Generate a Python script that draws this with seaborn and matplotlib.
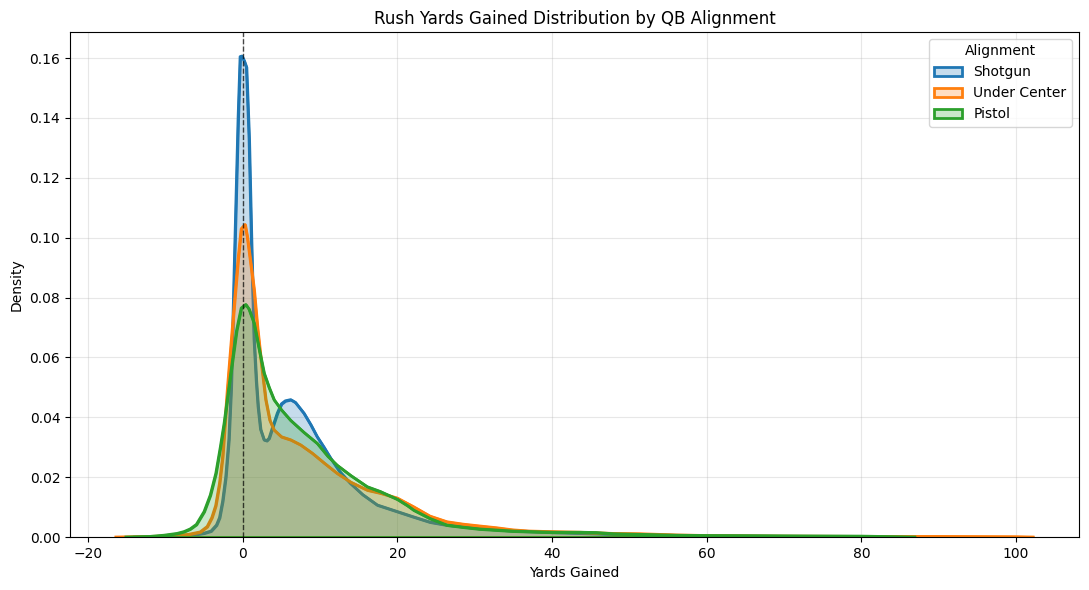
import numpy as np
import pandas as pd
import matplotlib
matplotlib.use("Agg")
import matplotlib.pyplot as plt
from matplotlib.patches import Patch
import seaborn as sns

# density curves (yards, density)
alignments = ["Shotgun", "Under Center", "Pistol"]

shotgun_x = [-14, -10, -7, -5, -4.1, -3.4, -3.0, -2.6, -2.2, -1.8, -1.5, -1.33,
             -1.1, -0.9, -0.6, -0.34, -0.1, 0.2, 0.47, 0.82, 1.12, 1.46, 1.75,
             1.98, 2.3, 2.75, 3.1, 3.4, 3.9, 4.47, 5.0, 5.5, 6.2, 6.8, 7.9, 8.8,
             9.6, 10.5, 11.35, 12.5, 13.9, 15.5, 17.4, 20, 22, 24.2, 26.4, 28.5,
             30.6, 34.9, 40, 45, 50, 60, 70, 80]
shotgun_d = [0, 0.0002, 0.0005, 0.0013, 0.002, 0.004, 0.0065, 0.012, 0.02,
             0.0325, 0.05, 0.066, 0.09, 0.11, 0.14, 0.1605, 0.1607, 0.159,
             0.157, 0.133, 0.099, 0.066, 0.052, 0.0436, 0.036, 0.0325, 0.0322,
             0.033, 0.037, 0.0414, 0.0445, 0.0455, 0.0459, 0.045, 0.0414,
             0.0375, 0.0336, 0.03, 0.0264, 0.022, 0.018, 0.0142, 0.0107, 0.0085,
             0.0068, 0.005, 0.004, 0.0035, 0.0029, 0.0021, 0.0016, 0.0012,
             0.0008, 0.0004, 0.0002, 0]

under_x = [-16.4, -12, -9, -7, -5.5, -4.6, -4.0, -3.5, -3.0, -2.6, -2.0, -1.5,
           -1.12, -0.6, -0.2, 0.3, 0.6, 1.0, 1.46, 1.9, 2.32, 2.97, 3.5, 4.04,
           5.0, 6.19, 7.48, 9, 10.5, 12.2, 14, 16.1, 17.8, 20, 22.1, 24.2, 26.4,
           28.5, 30.6, 32.8, 34.9, 37, 40, 43.6, 47.9, 51.3, 56, 60, 70, 80, 90,
           100, 102.2]
under_d = [0, 0.0002, 0.0004, 0.0009, 0.0017, 0.0035, 0.0065, 0.0105, 0.018,
           0.027, 0.049, 0.065, 0.077, 0.093, 0.103, 0.1044, 0.1, 0.092, 0.0827,
           0.07, 0.06, 0.0459, 0.039, 0.0358, 0.0335, 0.0325, 0.0308, 0.028,
           0.0248, 0.0213, 0.0183, 0.0157, 0.0147, 0.013, 0.0101, 0.007, 0.0051,
           0.0043, 0.0037, 0.0031, 0.0024, 0.002, 0.0018, 0.0016, 0.0012,
           0.0011, 0.0007, 0.0005, 0.0003, 0.0002, 0.0002, 0.0001, 0]

pistol_x = [-15.1, -12, -10.2, -8.5, -7.6, -6.8, -6.0, -5.0, -4.2, -3.48, -2.9,
            -2.41, -1.55, -0.8, -0.2, 0.39, 0.8, 1.46, 2.1, 2.75, 3.4, 4.04,
            5.0, 6.19, 7.9, 9.63, 11, 12.2, 14, 16.1, 17.8, 20, 21.3, 22.1,
            24.2, 26.4, 28.5, 30.6, 34.9, 40, 43.6, 45.7, 47.9, 51.3, 56, 60,
            70, 80, 86.9]
pistol_d = [0, 0.0002, 0.0006, 0.0012, 0.0018, 0.0027, 0.0042, 0.0085, 0.014,
            0.0213, 0.03, 0.038, 0.0548, 0.069, 0.0765, 0.0777, 0.0762, 0.0715,
            0.063, 0.0548, 0.05, 0.0459, 0.0425, 0.039, 0.035, 0.0313, 0.027,
            0.024, 0.0205, 0.0168, 0.0152, 0.0126, 0.0105, 0.009, 0.0062,
            0.004, 0.0033, 0.0027, 0.002, 0.0016, 0.0016, 0.0015, 0.0011,
            0.0009, 0.0006, 0.0005, 0.0004, 0.0003, 0]

curves = {
    "Shotgun": (shotgun_x, shotgun_d),
    "Under Center": (under_x, under_d),
    "Pistol": (pistol_x, pistol_d),
}
colors = dict(zip(alignments, sns.color_palette("tab10", 3)))

fig, ax = plt.subplots(figsize=(10.89, 5.9), dpi=100)
fig.subplots_adjust(left=0.0643, right=0.9908, bottom=0.0898, top=0.9458)

handles = []
for i, name in enumerate(alignments):
    xs, ds = curves[name]
    df = pd.DataFrame({"Yards": xs, "Density": ds})
    c = colors[name]
    z = 1 + i * 0.3
    ax.fill_between(df["Yards"], 0, df["Density"], facecolor=(*c, 0.25),
                    edgecolor=c, linewidth=2, zorder=z)
    sns.lineplot(data=df, x="Yards", y="Density", color=c, linewidth=2,
                 ax=ax, zorder=z + 0.1)
    handles.append(Patch(facecolor=(*c, 0.25), edgecolor=c, linewidth=2,
                         label=name))

ax.axvline(0, color="black", linestyle="--", linewidth=1, alpha=0.7, zorder=5)
ax.set_ylim(bottom=0)
ax.grid(alpha=0.3)
ax.set_axisbelow(True)
ax.set_title("Rush Yards Gained Distribution by QB Alignment")
ax.set_xlabel("Yards Gained")
ax.set_ylabel("Density")
ax.legend(handles=handles, title="Alignment", loc="upper right")

plt.savefig("out.png")
